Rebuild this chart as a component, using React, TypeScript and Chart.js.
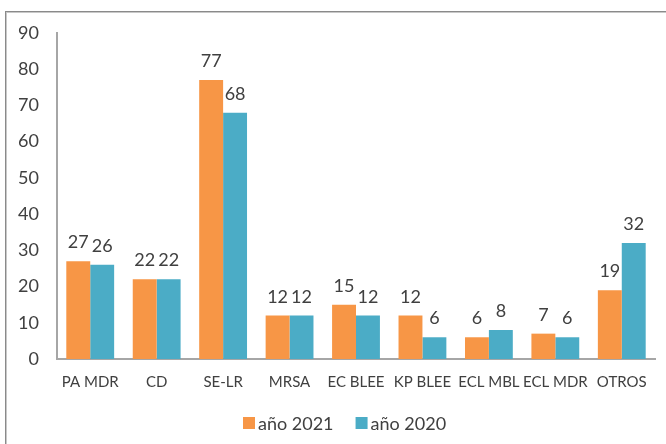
import React, { useEffect, useRef } from "react";
import { Chart, registerables } from "chart.js";

Chart.register(...registerables);

const categories = ["PA MDR", "CD", "SE-LR", "MRSA", "EC BLEE", "KP BLEE", "ECL MBL", "ECL MDR", "OTROS"];
const values2021 = [27, 22, 77, 12, 15, 12, 6, 7, 19];
const values2020 = [26, 22, 68, 12, 12, 6, 8, 6, 32];
const seriesLabels = ["año 2021", "año 2020"];
const seriesColors = ["#F79646", "#4BACC6"];
const yTicks = { min: 0, max: 90, step: 10 };

const FONT = "Lato, 'Noto Sans', sans-serif";
const TEXT = "#404040";

const framePlugin = {
  id: "frame",
  beforeDraw(chart: any) {
    const ctx = chart.ctx;
    ctx.save();
    ctx.fillStyle = "#ffffff";
    ctx.fillRect(0, 0, chart.width, chart.height);
    ctx.fillStyle = "#8a8a8a";
    ctx.fillRect(5, 11, chart.width - 5, 1);
    ctx.fillRect(5, 11, 1, chart.height - 11);
    ctx.fillStyle = "#c8c8c8";
    ctx.fillRect(6, 12, chart.width - 6, 1);
    ctx.fillRect(6, 12, 1, chart.height - 12);
    ctx.restore();
  },
};

const labelPlugin = {
  id: "valueLabels",
  afterDatasetsDraw(chart: any) {
    const ctx = chart.ctx;
    ctx.save();
    ctx.font = `18px ${FONT}`;
    ctx.fillStyle = TEXT;
    ctx.textAlign = "center";
    ctx.textBaseline = "alphabetic";
    chart.data.datasets.forEach((ds: any, i: number) => {
      const meta = chart.getDatasetMeta(i);
      meta.data.forEach((bar: any, j: number) => {
        ctx.fillText(String(ds.data[j]), bar.x, bar.y - 13);
      });
    });
    ctx.restore();
  },
};

const legendPlugin = {
  id: "customLegend",
  afterDraw(chart: any) {
    const ctx = chart.ctx;
    ctx.save();
    ctx.font = `18px ${FONT}`;
    ctx.textBaseline = "middle";
    ctx.textAlign = "left";
    const y = 423;
    let x = 243;
    chart.data.datasets.forEach((ds: any) => {
      ctx.fillStyle = ds.backgroundColor;
      ctx.fillRect(x, y - 6, 12, 12);
      ctx.fillStyle = TEXT;
      ctx.fillText(ds.label, x + 15, y + 1);
      x += 15 + ctx.measureText(ds.label).width + 22;
    });
    ctx.restore();
  },
};

export default function App() {
  const ref = useRef<HTMLCanvasElement | null>(null);
  useEffect(() => {
    if (!ref.current) return;
    const chart = new Chart(ref.current, {
      type: "bar",
      data: {
        labels: categories,
        datasets: [
          { label: seriesLabels[0], data: values2021, backgroundColor: seriesColors[0], categoryPercentage: 0.72, barPercentage: 1 },
          { label: seriesLabels[1], data: values2020, backgroundColor: seriesColors[1], categoryPercentage: 0.72, barPercentage: 1 },
        ],
      },
      options: {
        responsive: false,
        animation: false,
        layout: { padding: { top: 33, right: 11, left: 0, bottom: 0 } },
        plugins: {
          legend: { display: false },
          tooltip: { enabled: false },
        },
        scales: {
          x: {
            grid: { display: false, drawTicks: false },
            border: { display: true, color: "#a6a6a6", width: 2 },
            ticks: { color: TEXT, font: { family: FONT, size: 15 }, padding: 14, maxRotation: 0, autoSkip: false },
            afterFit: (s: any) => { s.height = 85; },
          },
          y: {
            min: yTicks.min,
            max: yTicks.max,
            grid: { display: false, drawTicks: false },
            border: { display: true, color: "#a6a6a6", width: 2 },
            ticks: { stepSize: yTicks.step, color: TEXT, font: { family: FONT, size: 18 }, padding: 18 },
            afterFit: (s: any) => { s.width = 57; },
          },
        },
      },
      plugins: [framePlugin, labelPlugin, legendPlugin],
    });
    return () => chart.destroy();
  }, []);
  return (
    <div style={{ position: "fixed", left: 0, top: 0, width: 666, height: 444, background: "#fff" }}>
      <canvas ref={ref} width={666} height={444} style={{ display: "block", width: 666, height: 444 }} />
    </div>
  );
}
